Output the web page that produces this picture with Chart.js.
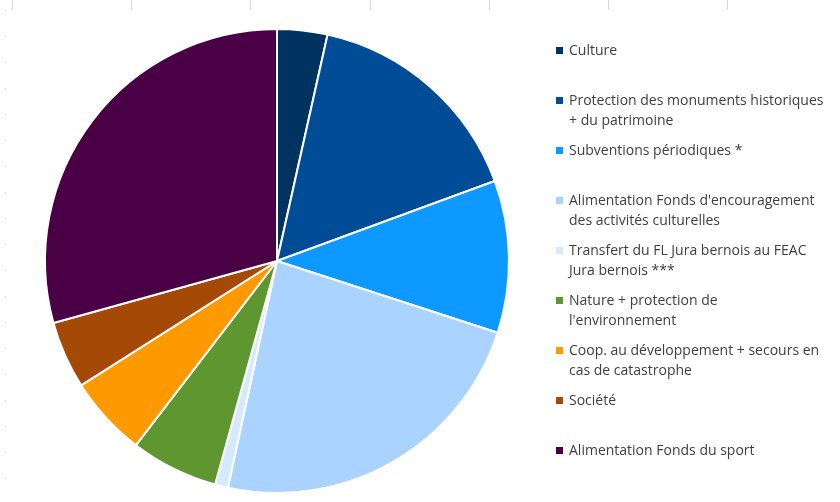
<!DOCTYPE html>
<html>
<head>
<meta charset="utf-8">
<script src="https://cdn.jsdelivr.net/npm/chart.js@4.4.0/dist/chart.umd.min.js"></script>
<style>
  html, body { margin: 0; padding: 0; background: #fff; }
  #wrap { position: relative; width: 840px; height: 502px; }
  #pie { position: absolute; left: 0; top: 0; }
  #legend { position: absolute; left: 556px; top: 40px; width: 284px; font-family: "Open Sans", sans-serif; font-size: 14px; color: #404040; }
  .item { position: absolute; left: 0; }
  .item .box { position: absolute; left: 0; top: 7px; width: 7px; height: 7px; }
  .item .txt { position: absolute; left: 13px; top: 0; line-height: 20px; white-space: nowrap; }
</style>
</head>
<body>
<div id="wrap">
  <canvas id="pie" width="840" height="502"></canvas>
  <div id="legend"></div>
</div>
<script>
const categories = [
  ["Culture"],
  ["Protection des monuments historiques", "+ du patrimoine"],
  ["Subventions périodiques *"],
  ["Alimentation Fonds d'encouragement", "des activités culturelles"],
  ["Transfert du FL Jura bernois au FEAC", "Jura bernois ***"],
  ["Nature + protection de", "l'environnement"],
  ["Coop. au développement + secours en", "cas de catastrophe"],
  ["Société"],
  ["Alimentation Fonds du sport"]
];
const shares = [3.5, 15.9, 10.6, 23.4, 0.9, 6.1, 5.6, 4.7, 29.3];
const colors = ["#00335f", "#004c97", "#0d99ff", "#aad4ff", "#d5eaff", "#5e962f", "#ff9900", "#a44a06", "#4a0044"];

// faint spreadsheet grid marks around the plot
const sheetMarks = {
  id: 'sheetMarks',
  beforeDraw(chart) {
    const ctx = chart.ctx;
    ctx.save();
    ctx.strokeStyle = '#d9d9d9';
    ctx.lineWidth = 1;
    [12, 131, 250, 370, 489, 608, 727].forEach(x => {
      ctx.beginPath();
      ctx.moveTo(x + 0.5, 0);
      ctx.lineTo(x + 0.5, 10);
      ctx.stroke();
    });
    ctx.fillStyle = '#d0d0d0';
    for (let y = 10; y < 502; y += 26) ctx.fillRect(5, y, 1, 1);
    ctx.restore();
  }
};

const chart = new Chart(document.getElementById('pie'), {
  type: 'pie',
  data: {
    labels: categories,
    datasets: [{
      data: shares,
      backgroundColor: colors,
      borderColor: '#ffffff',
      borderWidth: 2
    }]
  },
  options: {
    responsive: false,
    animation: false,
    layout: { padding: { left: 44, right: 330, top: 28, bottom: 8 } },
    plugins: {
      legend: { display: false },
      tooltip: { enabled: false }
    }
  },
  plugins: [sheetMarks]
});

// legend, one 50px slot per entry
const legend = document.getElementById('legend');
chart.data.labels.forEach((lines, i) => {
  const item = document.createElement('div');
  item.className = 'item';
  item.style.top = (i * 50) + 'px';
  const box = document.createElement('div');
  box.className = 'box';
  box.style.background = chart.data.datasets[0].backgroundColor[i];
  const txt = document.createElement('div');
  txt.className = 'txt';
  txt.innerHTML = lines.join('<br>');
  item.appendChild(box);
  item.appendChild(txt);
  legend.appendChild(item);
});
</script>
</body>
</html>
